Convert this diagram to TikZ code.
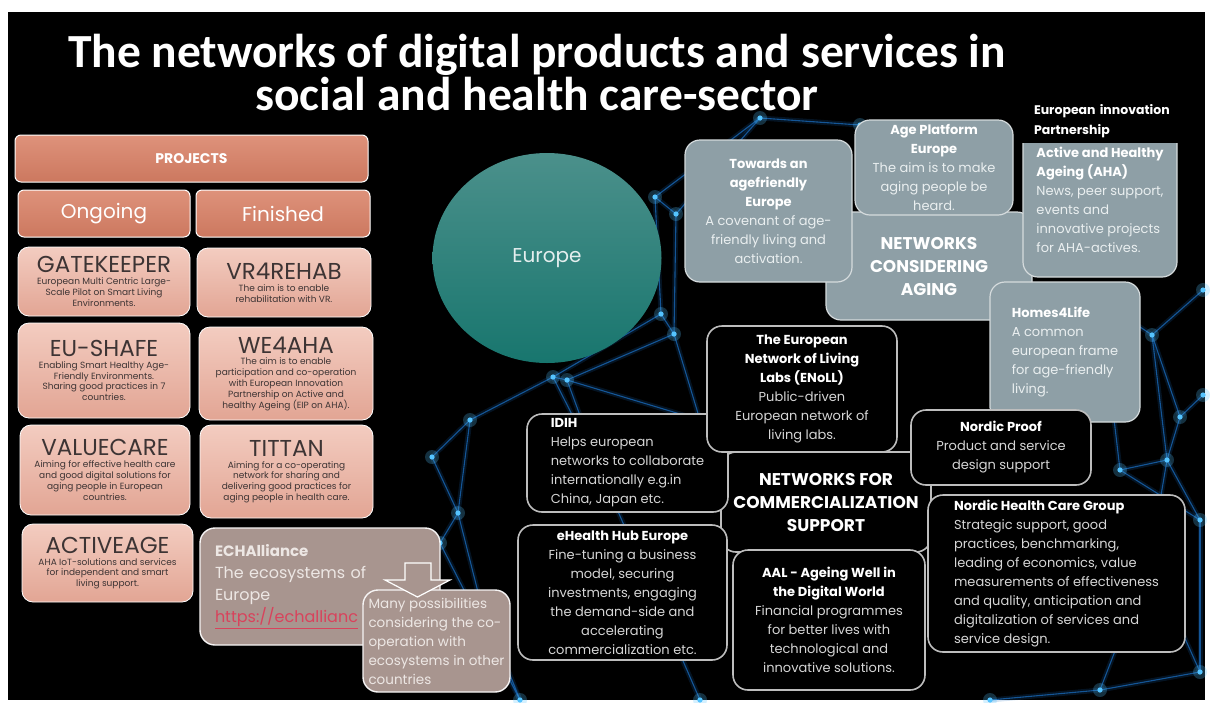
\documentclass[tikz,border=0pt]{standalone}
\usepackage{fontspec}
\setmainfont{Poppins}
\newfontfamily\titlefont{Carlito}
\usetikzlibrary{positioning}
\usetikzlibrary{shapes.geometric}
\definecolor{salmontop}{HTML}{DE927B}
\definecolor{salmonbot}{HTML}{CC785F}
\definecolor{pinktop}{HTML}{F3CCC0}
\definecolor{pinkbot}{HTML}{E2A594}
\definecolor{projtext}{HTML}{3D3434}
\definecolor{agegray}{HTML}{8E9FA6}
\definecolor{agerim}{HTML}{D5DBDD}
\definecolor{agetext}{HTML}{EAEFF0}
\definecolor{commrim}{HTML}{BDBDBD}
\definecolor{commtext}{HTML}{D6D6D6}
\definecolor{taupe}{HTML}{A8958F}
\definecolor{taupetext}{HTML}{EDE7E4}
\definecolor{linkred}{HTML}{D8435C}
\definecolor{tealtop}{HTML}{4B908B}
\definecolor{tealbot}{HTML}{18766E}
\definecolor{netblue}{HTML}{1A6CBD}
\definecolor{netglow}{HTML}{55C4FF}
\newcommand{\hd}[1]{\textcolor{white}{\bfseries #1}}
\newcommand{\ptitle}[1]{{\fontsize{23}{24}\selectfont #1}}
\tikzset{headbox/.style = {draw=white, line width=1pt, rounded corners=6pt,
                           top color=salmontop, bottom color=salmonbot, text=white}}
\tikzset{projbox/.style = {draw=white, line width=0.8pt, rounded corners=11pt,
                           top color=pinktop, bottom color=pinkbot, text=projtext,
                           align=center, font=\fontsize{9}{10.8}\selectfont}}
\tikzset{agebox/.style = {draw=agerim, line width=1.2pt, rounded corners=15pt,
                          fill=agegray, text=agetext, font=\fontsize{13}{19}\selectfont}}
\tikzset{commbox/.style = {draw=commrim, line width=1.6pt, rounded corners=15pt,
                           fill=black, text=commtext, font=\fontsize{13}{19}\selectfont}}
\tikzset{taupebox/.style = {draw=white!90!taupe, line width=1.4pt, rounded corners=15pt,
                            fill=taupe, text=taupetext}}
\tikzset{net/.style = {draw=netblue, line width=1.1pt, opacity=0.75}}
\tikzset{nethaze/.style = {draw=netblue, line width=5pt, opacity=0.18}}

\begin{document}
\begin{tikzpicture}[x=1pt, y=-1pt]
  \useasboundingbox (0,0) rectangle (1210,702);
  \fill [black] (8,12) rectangle (1205,700);

  % network in the background
  \foreach \n/\x/\y in {1/655/197, 2/676/214, 3/661/314, 4/674/334, 5/553/377, 6/567/380,
                        7/470/420, 8/432/457, 9/458/513, 10/440/543, 11/1152/335, 12/1180/417,
                        13/1167/460, 14/1200/672, 15/1203/290, 16/1120/470, 17/1200/520,
                        18/1100/300, 19/760/118, 20/1203/395, 21/990/700, 22/700/700,
                        23/520/700, 24/600/470, 25/700/420, 26/860/125, 27/1150/560,
                        28/1100/690, 29/405/650, 30/480/600}
    \coordinate (n\n) at (\x,\y);
  \foreach \a/\b in {1/2, 1/3, 2/4, 3/4, 3/5, 4/6, 5/6, 5/7, 7/8, 8/9, 9/10, 6/24, 7/9,
                     2/19, 1/19, 19/26, 11/15, 11/12, 11/13, 12/13, 12/20, 13/17, 13/16,
                     16/17, 17/14, 14/28, 11/18, 18/16, 10/23, 9/30, 30/23, 24/22, 6/25,
                     4/25, 13/27, 27/14, 27/28, 28/21, 10/29, 5/24} {
    \draw [nethaze] (n\a) -- (n\b);
    \draw [net] (n\a) -- (n\b);
  }
  \foreach \n in {1,...,30} {
    \fill [netglow, opacity=0.25] (n\n) circle (7);
    \fill [netglow] (n\n) circle (2.6);
  }

  % title
  \node [text=white, align=center, font=\titlefont\bfseries\fontsize{47.5}{43}\selectfont]
    (title) at (537,73) {The networks of digital products and services in\\social and health care-sector};

  % projects
  \node [headbox, minimum width=353, minimum height=47, font=\bfseries\fontsize{14}{16}\selectfont]
    (projects) at (191.5,158.5) {PROJECTS};
  \node [headbox, minimum width=172, minimum height=47, font=\fontsize{20}{22}\selectfont]
    (ongoing) at (104,213.5) {Ongoing};
  \node [headbox, minimum width=174, minimum height=47, font=\fontsize{20}{22}\selectfont]
    (finished) at (283,213.5) {Finished};
  \node [projbox, minimum width=172, minimum height=69] (gatekeeper) at (104,281.5)
    {\ptitle{GATEKEEPER}\\[1pt]European Multi Centric Large-\\Scale Pilot on Smart Living\\Environments.};
  \node [projbox, minimum width=174, minimum height=69] (vrrehab) at (284,282.5)
    {\ptitle{VR4REHAB}\\[1pt]The aim is to enable\\rehabilitation with VR.};
  \node [projbox, minimum width=172, minimum height=95] (eushafe) at (104,370.5)
    {\ptitle{EU-SHAFE}\\[1pt]Enabling Smart Healthy Age-\\Friendly Environments.\\Sharing good practices in 7\\countries.};
  \node [projbox, minimum width=174, minimum height=93] (weaha) at (286,373.5)
    {\ptitle{WE4AHA}\\[1pt]The aim is to enable\\participation and co-operation\\with European Innovation\\Partnership on Active and\\healthy Ageing (EIP on AHA).};
  \node [projbox, minimum width=170, minimum height=90] (valuecare) at (105,470)
    {\ptitle{VALUECARE}\\[1pt]Aiming for effective health care\\and good digital solutions for\\aging people in European\\countries.};
  \node [projbox, minimum width=173, minimum height=93] (tittan) at (286.5,471.5)
    {\ptitle{TITTAN}\\[1pt]Aiming for a co-operating\\network for sharing and\\delivering good practices for\\aging people in health care.};
  \node [projbox, minimum width=171, minimum height=78] (activeage) at (107.5,563)
    {\ptitle{ACTIVEAGE}\\[1pt]AHA IoT-solutions and services\\for independent and smart\\living support.};

  % ECHAlliance
  \node [taupebox, minimum width=240, minimum height=117, text width=210, align=left,
         font=\fontsize{16}{22}\selectfont] (echalliance) at (320,586.5)
    {{\bfseries\fontsize{15}{22}\selectfont ECHAlliance}\\The ecosystems of\\Europe\\
     \textcolor{linkred}{\underline{https://echallianc}}};
  \node [taupebox, minimum width=147, minimum height=102, align=left,
         font=\fontsize{13.5}{19}\selectfont] (many) at (436.5,641)
    {Many possibilities\\considering the co-\\operation with\\ecosystems in other\\countries};
  \draw [fill=taupe, draw=white, line width=1.2pt]
    (405,563) -- (431,563) -- (431,580) -- (450,580) -- (417.5,597)
    -- (385,580) -- (405,580) -- cycle;

  % Europe
  \node [ellipse, minimum width=229, minimum height=210, top color=tealtop, bottom color=tealbot,
         text=white!85!tealtop, font=\fontsize{20}{22}\selectfont] (europe) at (547,258) {Europe};

  % networks considering aging
  \node [agebox, minimum width=206, minimum height=108, text=white,
         font=\bfseries\fontsize{17}{23}\selectfont, align=center] (aging) at (929,266)
    {NETWORKS\\CONSIDERING\\AGING};
  \node [agebox, minimum width=167, minimum height=142, align=center] (towards) at (768.5,211)
    {\hd{Towards an}\\\hd{agefriendly}\\\hd{Europe}\\A covenant of age-\\friendly living and\\activation.};
  \node [agebox, minimum width=158, minimum height=95, align=center] (ageplatform) at (934,167.5)
    {\hd{Age Platform}\\\hd{Europe}\\The aim is to make\\aging people be\\heard.};
  \node [agebox, minimum width=154, minimum height=155, align=left] (aha) at (1100,199.5)
    {\hd{Active and Healthy}\\\hd{Ageing (AHA)}\\News, peer support,\\events and\\innovative projects\\for AHA-actives.};
  \node [fill=black, minimum width=186, minimum height=44, text width=156, align=left,
         inner sep=0, text=white, font=\bfseries\fontsize{12.5}{20}\selectfont] (eip) at (1112,121)
    {European innovation\\Partnership};
  \node [agebox, minimum width=150, minimum height=140, align=left] (homes) at (1065,352)
    {\hd{Homes4Life}\\A common\\european frame\\for age-friendly\\living.};

  % networks for commercialization support
  \node [commbox, minimum width=210, minimum height=100, text=white,
         font=\bfseries\fontsize{17}{23}\selectfont, align=center] (commerce) at (826,502)
    {NETWORKS FOR\\COMMERCIALIZATION\\SUPPORT};
  \node [commbox, minimum width=201, minimum height=98, align=left] (idih) at (627.5,463)
    {\hd{IDIH}\\Helps european\\networks to collaborate\\internationally e.g.in\\China, Japan etc.};
  \node [commbox, minimum width=190, minimum height=126, align=center] (enoll) at (802,389)
    {\hd{The European}\\\hd{Network of Living}\\\hd{Labs (ENoLL)}\\Public-driven\\European network of\\living labs.};
  \node [commbox, minimum width=180, minimum height=75, align=center] (nordicproof) at (1001,447.5)
    {\hd{Nordic Proof}\\Product and service\\design support};
  \node [commbox, minimum width=257, minimum height=157, align=left, inner ysep=2] (nordichealth) at (1056.5,573.5)
    {\hd{Nordic Health Care Group}\\Strategic support, good\\practices, benchmarking,\\leading of economics, value\\measurements of  effectiveness\\and quality, anticipation and\\digitalization of services and\\service design.};
  \node [commbox, minimum width=209, minimum height=135, align=center] (ehealth) at (622.5,592.5)
    {\hd{eHealth Hub Europe}\\Fine-tuning a business\\model, securing\\investments, engaging\\the demand-side and\\accelerating\\commercialization etc.};
  \node [commbox, minimum width=192, minimum height=140, align=center] (aal) at (829,620)
    {\hd{AAL - Ageing Well in}\\\hd{the Digital World}\\Financial programmes\\for better lives with\\technological and\\innovative solutions.};
\end{tikzpicture}
\end{document}
